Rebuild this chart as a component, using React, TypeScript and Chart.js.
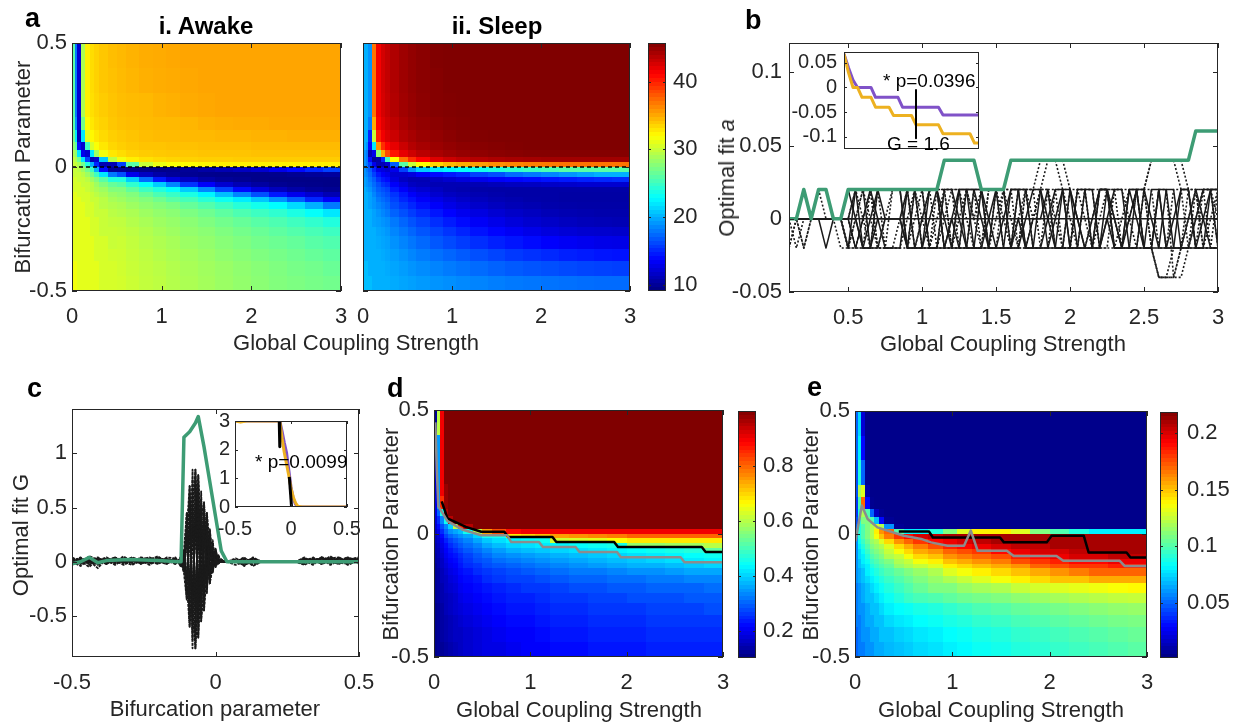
import React, { useEffect, useRef } from "react";
import { Chart, registerables } from "chart.js";

Chart.register(...registerables);

const FONT = '"Liberation Sans", Arial, Helvetica, sans-serif';
const AXIS_COLOR = "#262626";
const GREEN = "#3d9c74";
const YELLOW = "#edb120";
const PURPLE = "#8052c8";
const GRAY = "#8c8c8c";

/* ---------------- tick labels ---------------- */
const A_X_TICKS = [0, 1, 2, 3];
const A_Y_TICKS = [-0.5, 0, 0.5];
const CBAR_A_TICKS = [10, 20, 30, 40];
const B_X_TICKS = [0.5, 1, 1.5, 2, 2.5, 3];
const B_Y_TICKS = [-0.05, 0, 0.05, 0.1];
const B_INSET_Y_TICKS = [-0.1, -0.05, 0, 0.05];
const C_X_TICKS = [-0.5, 0, 0.5];
const C_Y_TICKS = [-0.5, 0, 0.5, 1];
const C_INSET_X_TICKS = [-0.5, 0, 0.5];
const C_INSET_Y_TICKS = [0, 1, 2, 3];
const CBAR_D_TICKS = [0.2, 0.4, 0.6, 0.8];
const CBAR_E_TICKS = [0.05, 0.1, 0.15, 0.2];

const CBAR_A_RANGE = [9.1, 45.7];
const CBAR_D_RANGE = [0.1, 1.0];
const CBAR_E_RANGE = [0.0015, 0.2185];

/* ---------------- heatmap grids (cell edges) ---------------- */
const HEAT_X_EDGES = [0, 0.03, 0.06, 0.1, 0.15, 0.2, 0.25, 0.3, 0.4, 0.5, 0.6, 0.75, 0.9, 1.05, 1.2, 1.4, 1.6, 1.8, 2.0, 2.2, 2.4, 2.6, 2.8, 3.0];
const HEAT_Y_EDGES = [0.5, 0.4, 0.3, 0.2, 0.15, 0.1, 0.07, 0.04, 0.02, 0, -0.02, -0.04, -0.06, -0.08, -0.1, -0.12, -0.14, -0.17, -0.2, -0.24, -0.28, -0.33, -0.38, -0.44, -0.5];

const AWAKE_GRID = [
  [26, 18, 12, 29, 32.5, 33.2, 33.6, 34, 34.3, 34.5, 34.7, 34.9, 35, 35.1, 35.2, 35.2, 35.2, 35.2, 35.2, 35.2, 35.2, 35.2, 35.2],
  [26, 18, 12, 29, 32.5, 33.2, 33.6, 34, 34.2, 34.4, 34.6, 34.8, 34.9, 35, 35.1, 35.2, 35.2, 35.2, 35.2, 35.2, 35.2, 35.2, 35.2],
  [26, 18, 12, 29, 32.5, 33.1, 33.5, 33.8, 34.1, 34.3, 34.4, 34.5, 34.7, 34.8, 35, 35.1, 35.2, 35.2, 35.2, 35.2, 35.2, 35.2, 35.2],
  [26, 19, 12, 27, 32, 32.8, 33.3, 33.6, 34, 34.2, 34.3, 34.4, 34.5, 34.5, 34.6, 34.8, 34.9, 35, 35, 35.1, 35.1, 35.1, 35.1],
  [27, 22, 11, 22, 31, 32.2, 32.8, 33.3, 33.7, 33.9, 34.1, 34.3, 34.4, 34.4, 34.5, 34.5, 34.6, 34.6, 34.7, 34.7, 34.8, 34.8, 34.8],
  [28, 26, 14, 12, 25, 30.5, 31.8, 32.8, 33.4, 33.7, 33.9, 34.1, 34.1, 34.2, 34.2, 34.3, 34.3, 34.3, 34.4, 34.4, 34.4, 34.4, 34.4],
  [29, 28, 22, 13, 12, 22, 28.5, 31.5, 32.8, 33.2, 33.6, 33.8, 33.9, 34, 34, 34.1, 34.1, 34.1, 34.2, 34.2, 34.2, 34.2, 34.2],
  [30, 29, 27, 22, 16, 11, 12, 21, 29.5, 31.5, 32.5, 33, 33.3, 33.5, 33.6, 33.7, 33.7, 33.8, 33.8, 33.8, 33.8, 33.8, 33.8],
  [30, 30, 29, 27, 24, 20, 15, 11, 11, 16, 26, 30, 31.3, 31.8, 32, 32.3, 32.5, 32.5, 32.5, 32.5, 32.5, 32.5, 32.5],
  [30, 30, 29.5, 28.5, 27, 25, 20, 14, 10, 10, 9.5, 9.5, 9.5, 9.7, 10, 10.5, 11, 11.5, 12, 13, 14, 15, 16],
  [30, 30, 30, 29.5, 28.5, 27, 25, 22, 18, 16.5, 13, 11.5, 10.5, 10, 9.8, 9.6, 9.5, 9.5, 9.5, 9.6, 9.8, 10, 10.2],
  [30.5, 30.5, 30, 30, 29.5, 28.5, 27.5, 26, 24, 24, 21, 17.5, 14.5, 12.5, 11.5, 10.5, 10, 9.8, 9.5, 9.4, 9.4, 9.4, 9.4],
  [30.5, 30.5, 30.5, 30, 30, 29.5, 28.5, 27.5, 26.5, 26, 24.5, 23, 21, 18.5, 15.5, 13.5, 12, 11, 10.3, 9.8, 9.6, 9.5, 9.4],
  [30.5, 30.5, 30.5, 30.5, 30, 29.5, 29, 28.5, 27.5, 27.5, 26.3, 25, 24, 23, 21, 18.5, 16, 14, 12.5, 11.3, 10.5, 10, 9.8],
  [31, 31, 30.5, 30.5, 30.5, 30, 29.5, 29, 28.3, 28, 27.5, 26.5, 25.5, 24.8, 23.8, 22.5, 20.5, 18.5, 16.5, 14.5, 13, 12, 11],
  [31, 31, 31, 30.5, 30.5, 30, 30, 29.5, 28.8, 28.5, 28, 27.5, 26.8, 26, 25.3, 24.3, 23.3, 22.2, 20.8, 19, 17, 15, 13.5],
  [31, 31, 31, 31, 30.5, 30.5, 30, 29.5, 29.2, 29, 28.5, 28, 27.6, 27.2, 26.5, 25.8, 25, 24.2, 23.5, 22.8, 21.5, 20, 18],
  [31, 31, 31, 31, 30.5, 30.5, 30, 30, 29.5, 29.3, 29, 28.5, 28.1, 27.8, 27.3, 26.8, 26.2, 25.6, 25, 24.5, 23.8, 23, 22],
  [31, 31, 31, 31, 31, 30.5, 30.5, 30, 29.8, 29.7, 29.3, 28.9, 28.5, 28.2, 27.8, 27.4, 26.9, 26.5, 26, 25.6, 25.1, 24.6, 24],
  [31, 31, 31, 31, 31, 30.5, 30.5, 30, 30, 29.9, 29.6, 29.2, 28.8, 28.5, 28.1, 27.8, 27.4, 27, 26.6, 26.2, 25.8, 25.4, 25],
  [31, 31, 31, 31, 31, 31, 30.5, 30.5, 30, 30.1, 29.8, 29.4, 29.1, 28.8, 28.4, 28.1, 27.7, 27.4, 27, 26.7, 26.4, 26, 25.7],
  [31, 31, 31, 31, 31, 31, 30.5, 30.5, 30.3, 30.2, 29.9, 29.6, 29.3, 29, 28.7, 28.4, 28, 27.7, 27.4, 27.1, 26.8, 26.5, 26.2],
  [31.5, 31.5, 31, 31, 31, 31, 31, 30.5, 30.5, 30.3, 30, 29.7, 29.5, 29.2, 28.9, 28.6, 28.3, 28, 27.7, 27.4, 27.1, 26.9, 26.6],
  [31.5, 31.5, 31, 31, 31, 31, 31, 30.5, 30.5, 30.4, 30.1, 29.8, 29.6, 29.3, 29, 28.7, 28.4, 28.1, 27.8, 27.5, 27.3, 27.1, 26.9],
];

const SLEEP_GRID = [
  [20, 20, 19, 37, 41.5, 42.7, 43.3, 44, 44.6, 45, 45.3, 45.6, 45.7, 45.7, 45.7, 45.7, 45.7, 45.7, 45.7, 45.7, 45.7, 45.7, 45.7],
  [20, 20, 19, 37, 41.5, 42.7, 43.3, 44, 44.6, 45, 45.3, 45.5, 45.7, 45.7, 45.7, 45.7, 45.7, 45.7, 45.7, 45.7, 45.7, 45.7, 45.7],
  [20, 20, 19, 37, 41.5, 42.6, 43.2, 43.9, 44.5, 44.9, 45.2, 45.5, 45.6, 45.7, 45.7, 45.7, 45.7, 45.7, 45.7, 45.7, 45.7, 45.7, 45.7],
  [20, 20, 18, 35, 41, 42.2, 42.9, 43.5, 44.2, 44.7, 45, 45.3, 45.5, 45.6, 45.7, 45.7, 45.7, 45.7, 45.7, 45.7, 45.7, 45.7, 45.7],
  [20, 20, 15, 30, 40, 41.6, 42.4, 43, 43.8, 44.3, 44.7, 45, 45.3, 45.5, 45.6, 45.7, 45.7, 45.7, 45.7, 45.7, 45.7, 45.7, 45.7],
  [20, 19, 14, 22, 36, 39.5, 41, 42, 43, 43.8, 44.3, 44.7, 45, 45.2, 45.4, 45.5, 45.6, 45.7, 45.7, 45.7, 45.7, 45.7, 45.7],
  [19, 18, 11, 13, 28, 35, 38.5, 40.5, 42, 42.9, 43.6, 44.2, 44.6, 44.9, 45.1, 45.3, 45.4, 45.5, 45.5, 45.5, 45.5, 45.5, 45.5],
  [19, 18, 14, 10, 10.5, 15, 25, 32, 37, 39.5, 41, 42.3, 43, 43.5, 43.8, 44.1, 44.3, 44.4, 44.5, 44.5, 44.5, 44.5, 44.5],
  [19, 18, 16, 13, 11, 11, 12, 17, 26, 30, 32, 33.5, 34.5, 35, 35.5, 36, 36.3, 36.6, 36.8, 37, 37, 37, 37],
  [19, 18, 17, 15, 13, 12.5, 12, 13, 16, 19, 21, 22, 22.5, 23, 23.5, 24, 24.5, 25, 25.5, 26, 26, 26, 26],
  [19, 18.5, 17.5, 16, 14.5, 13.5, 13, 12, 12, 12.5, 13.5, 14, 14.5, 15, 16, 16.5, 17.5, 18, 18.5, 19, 19.5, 20, 20],
  [19.5, 19, 18, 17, 15.5, 14.5, 14, 12.5, 11.5, 11, 11, 11.5, 12, 12.5, 13, 13.5, 13.8, 14, 14.3, 14.5, 14.8, 15, 15.2],
  [19.5, 19, 18.5, 17.5, 16.5, 15.5, 15, 13.5, 12.5, 11.5, 11.2, 11, 11, 11, 11, 11.2, 11.4, 11.5, 11.7, 11.8, 12, 12, 12],
  [20, 19.5, 19, 18, 17, 16.5, 16, 14.5, 13.5, 12.5, 12, 11.5, 11, 10.8, 10.6, 10.5, 10.5, 10.5, 10.5, 10.5, 10.5, 10.5, 10.5],
  [20, 20, 19.5, 18.5, 17.5, 17, 16.5, 15.5, 14.5, 13.5, 12.8, 12, 11.5, 11.2, 10.9, 10.7, 10.5, 10.5, 10.5, 10.4, 10.4, 10.4, 10.4],
  [20, 20, 19.5, 19, 18, 17.5, 17, 16, 15, 14.3, 13.5, 12.8, 12.2, 11.7, 11.3, 11, 10.8, 10.6, 10.5, 10.4, 10.4, 10.4, 10.4],
  [20, 20, 19.5, 19, 18.5, 18, 17.5, 16.5, 15.8, 15, 14.2, 13.5, 12.8, 12.3, 11.8, 11.4, 11.1, 10.9, 10.7, 10.6, 10.5, 10.5, 10.5],
  [20, 20, 20, 19.5, 19, 18.5, 18, 17.2, 16.5, 15.8, 15.1, 14.4, 13.7, 13.1, 12.6, 12.1, 11.7, 11.4, 11.1, 10.9, 10.8, 10.7, 10.7],
  [20, 20, 20, 19.5, 19.3, 19, 18.7, 18, 17.3, 16.6, 16, 15.3, 14.6, 14, 13.4, 12.9, 12.4, 12, 11.7, 11.4, 11.2, 11.1, 11],
  [20, 20, 20, 20, 19.6, 19.4, 19.1, 18.5, 17.9, 17.3, 16.7, 16.1, 15.5, 14.9, 14.3, 13.8, 13.3, 12.9, 12.5, 12.2, 12, 11.9, 11.8],
  [20, 20, 20, 20, 19.8, 19.6, 19.4, 18.9, 18.4, 17.9, 17.4, 16.8, 16.3, 15.8, 15.3, 14.8, 14.4, 14, 13.6, 13.3, 13.1, 12.9, 12.8],
  [20, 20, 20, 20, 20, 19.8, 19.6, 19.3, 18.9, 18.5, 18.1, 17.7, 17.3, 16.9, 16.5, 16.1, 15.7, 15.4, 15.1, 14.8, 14.6, 14.4, 14.3],
  [20.5, 20.5, 20, 20, 20, 20, 19.8, 19.6, 19.3, 19, 18.7, 18.4, 18.1, 17.8, 17.5, 17.2, 16.9, 16.7, 16.5, 16.3, 16.1, 16, 15.9],
  [20.5, 20.5, 20.5, 20, 20, 20, 20, 19.8, 19.6, 19.4, 19.2, 19, 18.8, 18.6, 18.4, 18.2, 18, 17.9, 17.8, 17.7, 17.6, 17.5, 17.5],
];

const PANEL_D_GRID = [
  [0.12, 0.6, 0.9, 1, 1, 1, 1, 1, 1, 1, 1, 1, 1, 1, 1, 1, 1, 1, 1, 1, 1, 1, 1],
  [0.18, 0.35, 0.9, 1, 1, 1, 1, 1, 1, 1, 1, 1, 1, 1, 1, 1, 1, 1, 1, 1, 1, 1, 1],
  [0.18, 0.35, 0.9, 1, 1, 1, 1, 1, 1, 1, 1, 1, 1, 1, 1, 1, 1, 1, 1, 1, 1, 1, 1],
  [0.18, 0.35, 0.9, 0.98, 1, 1, 1, 1, 1, 1, 1, 1, 1, 1, 1, 1, 1, 1, 1, 1, 1, 1, 1],
  [0.19, 0.35, 0.85, 0.98, 1, 1, 1, 1, 1, 1, 1, 1, 1, 1, 1, 1, 1, 1, 1, 1, 1, 1, 1],
  [0.19, 0.3, 0.45, 0.95, 1, 1, 1, 1, 1, 1, 1, 1, 1, 1, 1, 1, 1, 1, 1, 1, 1, 1, 1],
  [0.18, 0.25, 0.33, 0.45, 0.95, 1, 1, 1, 1, 1, 1, 1, 1, 1, 1, 1, 1, 1, 1, 1, 1, 1, 1],
  [0.17, 0.22, 0.28, 0.33, 0.4, 0.6, 0.85, 0.95, 1, 1, 1, 1, 1, 1, 1, 1, 1, 1, 1, 1, 1, 1, 1],
  [0.16, 0.2, 0.25, 0.3, 0.34, 0.36, 0.38, 0.45, 0.6, 0.75, 0.82, 0.88, 0.9, 0.9, 0.9, 0.9, 0.9, 0.9, 0.9, 0.9, 0.9, 0.9, 0.9],
  [0.15, 0.18, 0.22, 0.27, 0.3, 0.32, 0.34, 0.36, 0.4, 0.45, 0.45, 0.68, 0.7, 0.72, 0.75, 0.76, 0.77, 0.78, 0.8, 0.8, 0.8, 0.8, 0.8],
  [0.15, 0.17, 0.2, 0.24, 0.27, 0.29, 0.31, 0.33, 0.36, 0.39, 0.41, 0.43, 0.44, 0.45, 0.62, 0.63, 0.64, 0.66, 0.68, 0.68, 0.68, 0.68, 0.68],
  [0.14, 0.16, 0.19, 0.22, 0.25, 0.27, 0.29, 0.31, 0.33, 0.36, 0.38, 0.4, 0.41, 0.42, 0.43, 0.44, 0.45, 0.46, 0.57, 0.57, 0.58, 0.58, 0.6],
  [0.14, 0.15, 0.18, 0.21, 0.23, 0.25, 0.27, 0.29, 0.31, 0.33, 0.35, 0.37, 0.38, 0.39, 0.4, 0.41, 0.42, 0.43, 0.44, 0.45, 0.46, 0.47, 0.52],
  [0.13, 0.15, 0.17, 0.2, 0.22, 0.23, 0.25, 0.27, 0.29, 0.31, 0.33, 0.34, 0.35, 0.36, 0.37, 0.38, 0.39, 0.4, 0.41, 0.42, 0.43, 0.44, 0.45],
  [0.13, 0.14, 0.16, 0.19, 0.21, 0.22, 0.24, 0.26, 0.28, 0.29, 0.31, 0.32, 0.33, 0.34, 0.35, 0.36, 0.37, 0.38, 0.39, 0.4, 0.41, 0.42, 0.43],
  [0.12, 0.14, 0.16, 0.18, 0.2, 0.21, 0.23, 0.25, 0.26, 0.28, 0.29, 0.3, 0.31, 0.32, 0.33, 0.34, 0.35, 0.36, 0.37, 0.37, 0.38, 0.39, 0.4],
  [0.12, 0.13, 0.15, 0.17, 0.19, 0.2, 0.22, 0.23, 0.25, 0.26, 0.27, 0.28, 0.29, 0.3, 0.31, 0.32, 0.32, 0.33, 0.34, 0.34, 0.35, 0.36, 0.36],
  [0.12, 0.13, 0.15, 0.16, 0.18, 0.19, 0.21, 0.22, 0.23, 0.25, 0.26, 0.27, 0.27, 0.28, 0.29, 0.3, 0.3, 0.31, 0.31, 0.32, 0.32, 0.33, 0.33],
  [0.12, 0.13, 0.14, 0.16, 0.17, 0.18, 0.2, 0.21, 0.22, 0.23, 0.24, 0.25, 0.26, 0.26, 0.27, 0.28, 0.28, 0.29, 0.29, 0.3, 0.3, 0.3, 0.31],
  [0.12, 0.13, 0.14, 0.15, 0.16, 0.17, 0.19, 0.2, 0.21, 0.22, 0.23, 0.24, 0.24, 0.25, 0.26, 0.26, 0.27, 0.27, 0.28, 0.28, 0.28, 0.29, 0.29],
  [0.11, 0.12, 0.13, 0.15, 0.16, 0.17, 0.18, 0.19, 0.2, 0.21, 0.22, 0.23, 0.23, 0.24, 0.25, 0.25, 0.26, 0.26, 0.26, 0.27, 0.27, 0.27, 0.28],
  [0.11, 0.12, 0.13, 0.14, 0.15, 0.16, 0.17, 0.18, 0.19, 0.2, 0.21, 0.22, 0.22, 0.23, 0.24, 0.24, 0.25, 0.25, 0.25, 0.26, 0.26, 0.26, 0.26],
  [0.11, 0.12, 0.13, 0.14, 0.15, 0.16, 0.16, 0.17, 0.18, 0.19, 0.2, 0.21, 0.21, 0.22, 0.23, 0.23, 0.24, 0.24, 0.24, 0.25, 0.25, 0.25, 0.25],
  [0.11, 0.12, 0.12, 0.13, 0.14, 0.15, 0.16, 0.17, 0.18, 0.19, 0.19, 0.2, 0.21, 0.21, 0.22, 0.22, 0.23, 0.23, 0.23, 0.24, 0.24, 0.24, 0.24],
];

const PANEL_E_GRID = [
  [0.05, 0.075, 0.02, 0.004, 0.004, 0.004, 0.004, 0.004, 0.004, 0.004, 0.004, 0.004, 0.004, 0.004, 0.004, 0.004, 0.004, 0.004, 0.004, 0.004, 0.004, 0.004, 0.004],
  [0.05, 0.08, 0.03, 0.004, 0.004, 0.004, 0.004, 0.004, 0.004, 0.004, 0.004, 0.004, 0.004, 0.004, 0.004, 0.004, 0.004, 0.004, 0.004, 0.004, 0.004, 0.004, 0.004],
  [0.045, 0.09, 0.05, 0.005, 0.004, 0.004, 0.004, 0.004, 0.004, 0.004, 0.004, 0.004, 0.004, 0.004, 0.004, 0.004, 0.004, 0.004, 0.004, 0.004, 0.004, 0.004, 0.004],
  [0.045, 0.12, 0.13, 0.01, 0.004, 0.004, 0.004, 0.004, 0.004, 0.004, 0.004, 0.004, 0.004, 0.004, 0.004, 0.004, 0.004, 0.004, 0.004, 0.004, 0.004, 0.004, 0.004],
  [0.04, 0.1, 0.17, 0.03, 0.005, 0.004, 0.004, 0.004, 0.004, 0.004, 0.004, 0.004, 0.004, 0.004, 0.004, 0.004, 0.004, 0.004, 0.004, 0.004, 0.004, 0.004, 0.004],
  [0.04, 0.09, 0.12, 0.1, 0.05, 0.015, 0.006, 0.004, 0.004, 0.004, 0.004, 0.004, 0.004, 0.004, 0.004, 0.004, 0.004, 0.004, 0.004, 0.004, 0.004, 0.004, 0.004],
  [0.045, 0.09, 0.11, 0.11, 0.1, 0.07, 0.03, 0.006, 0.004, 0.004, 0.004, 0.004, 0.004, 0.004, 0.004, 0.004, 0.004, 0.004, 0.004, 0.004, 0.004, 0.004, 0.004],
  [0.05, 0.09, 0.1, 0.11, 0.12, 0.13, 0.12, 0.06, 0.006, 0.004, 0.004, 0.004, 0.004, 0.004, 0.004, 0.004, 0.004, 0.004, 0.004, 0.004, 0.004, 0.004, 0.004],
  [0.055, 0.09, 0.1, 0.11, 0.12, 0.14, 0.16, 0.17, 0.1, 0.08, 0.08, 0.09, 0.11, 0.13, 0.14, 0.14, 0.13, 0.11, 0.1, 0.09, 0.08, 0.08, 0.08],
  [0.06, 0.09, 0.1, 0.11, 0.12, 0.135, 0.15, 0.165, 0.18, 0.19, 0.2, 0.205, 0.21, 0.21, 0.21, 0.21, 0.21, 0.21, 0.21, 0.21, 0.21, 0.21, 0.21],
  [0.06, 0.085, 0.095, 0.105, 0.115, 0.12, 0.13, 0.145, 0.16, 0.17, 0.18, 0.19, 0.195, 0.2, 0.205, 0.21, 0.21, 0.21, 0.21, 0.21, 0.21, 0.21, 0.21],
  [0.06, 0.08, 0.09, 0.1, 0.11, 0.115, 0.12, 0.13, 0.145, 0.155, 0.165, 0.175, 0.185, 0.19, 0.195, 0.2, 0.205, 0.205, 0.21, 0.21, 0.21, 0.21, 0.21],
  [0.06, 0.075, 0.085, 0.095, 0.105, 0.11, 0.115, 0.125, 0.135, 0.145, 0.155, 0.16, 0.17, 0.175, 0.18, 0.19, 0.195, 0.2, 0.2, 0.205, 0.21, 0.21, 0.21],
  [0.06, 0.075, 0.08, 0.09, 0.1, 0.105, 0.11, 0.12, 0.125, 0.135, 0.145, 0.15, 0.16, 0.165, 0.17, 0.175, 0.185, 0.19, 0.195, 0.2, 0.2, 0.205, 0.205],
  [0.06, 0.07, 0.08, 0.085, 0.095, 0.1, 0.105, 0.11, 0.12, 0.125, 0.135, 0.14, 0.15, 0.155, 0.16, 0.165, 0.175, 0.18, 0.185, 0.19, 0.19, 0.195, 0.195],
  [0.06, 0.07, 0.075, 0.08, 0.09, 0.095, 0.1, 0.105, 0.115, 0.12, 0.125, 0.13, 0.14, 0.145, 0.15, 0.155, 0.16, 0.17, 0.175, 0.18, 0.18, 0.185, 0.185],
  [0.06, 0.065, 0.07, 0.08, 0.085, 0.09, 0.095, 0.1, 0.105, 0.11, 0.115, 0.12, 0.13, 0.135, 0.14, 0.145, 0.15, 0.155, 0.16, 0.165, 0.17, 0.17, 0.17],
  [0.06, 0.065, 0.07, 0.075, 0.08, 0.085, 0.09, 0.095, 0.1, 0.105, 0.11, 0.115, 0.12, 0.125, 0.13, 0.135, 0.14, 0.145, 0.15, 0.15, 0.155, 0.155, 0.155],
  [0.055, 0.06, 0.065, 0.07, 0.075, 0.08, 0.085, 0.09, 0.095, 0.1, 0.105, 0.11, 0.11, 0.115, 0.118, 0.12, 0.125, 0.128, 0.13, 0.132, 0.134, 0.136, 0.138],
  [0.055, 0.06, 0.065, 0.07, 0.07, 0.075, 0.08, 0.085, 0.09, 0.095, 0.098, 0.1, 0.103, 0.106, 0.108, 0.11, 0.113, 0.116, 0.118, 0.12, 0.122, 0.124, 0.125],
  [0.055, 0.06, 0.06, 0.065, 0.07, 0.07, 0.075, 0.08, 0.083, 0.085, 0.088, 0.09, 0.093, 0.096, 0.099, 0.101, 0.104, 0.106, 0.108, 0.11, 0.112, 0.114, 0.115],
  [0.055, 0.055, 0.06, 0.065, 0.065, 0.07, 0.07, 0.075, 0.078, 0.08, 0.083, 0.085, 0.088, 0.09, 0.093, 0.095, 0.098, 0.1, 0.102, 0.104, 0.106, 0.108, 0.109],
  [0.05, 0.055, 0.06, 0.06, 0.065, 0.065, 0.07, 0.07, 0.073, 0.075, 0.078, 0.08, 0.083, 0.085, 0.088, 0.09, 0.093, 0.095, 0.097, 0.099, 0.101, 0.103, 0.105],
  [0.05, 0.055, 0.055, 0.06, 0.06, 0.065, 0.065, 0.068, 0.07, 0.072, 0.075, 0.077, 0.08, 0.082, 0.085, 0.087, 0.09, 0.092, 0.094, 0.096, 0.098, 0.1, 0.102],
];

/* ---------------- panel a: zero reference line ---------------- */
const ZERO_LINE_X = [0, 3];
const ZERO_LINE_Y = [0, 0];

/* ---------------- panel b (values in hundredths) ---------------- */
const B_X = [0.1, 0.15, 0.2, 0.25, 0.3, 0.35, 0.4, 0.45, 0.5, 0.55, 0.6, 0.65, 0.7, 0.75, 0.8, 0.85, 0.9, 0.95, 1, 1.05, 1.1, 1.15, 1.2, 1.25, 1.3, 1.35, 1.4, 1.45, 1.5, 1.55, 1.6, 1.65, 1.7, 1.75, 1.8, 1.85, 1.9, 1.95, 2, 2.05, 2.1, 2.15, 2.2, 2.25, 2.3, 2.35, 2.4, 2.45, 2.5, 2.55, 2.6, 2.65, 2.7, 2.75, 2.8, 2.85, 2.9, 2.95, 3];
const B_GROUP = [0, 0, 2, 0, 2, 2, 0, 0, 2, 2, 2, 2, 2, 2, 2, 2, 2, 2, 2, 2, 2, 4, 4, 4, 4, 4, 2, 2, 2, 2, 4, 4, 4, 4, 4, 4, 4, 4, 4, 4, 4, 4, 4, 4, 4, 4, 4, 4, 4, 4, 4, 4, 4, 4, 4, 6, 6, 6, 6];
const B_SUBJ_SOLID_1 = [0, 0, 0, 0, 0, -2, 0, 0, 0, 0, 0, 0, 0, 0, 0, 0, 0, 0, 0, 0, 0, 0, 0, 0, 0, 0, 0, 0, 0, 0, 0, 0, 0, 0, 0, 0, 0, 0, 0, 0, 0, 0, 0, 0, 0, 0, 0, 0, 0, 0, 0, 0, 0, 0, 0, 0, 0, 0, 0];
const B_SUBJ_SOLID_2 = [0, 0, 0, 0, 0, 0, 0, 0, 0, 2, -2, -2, 2, 0, 0, 0, 2, -2, -2, 2, 2, -2, 0, 2, -2, -2, 2, 0, -2, -2, 2, 2, -2, 0, 0, 2, -2, -2, 2, 0, -2, -2, 2, 2, -2, -2, 0, 2, -2, -2, 2, 2, -2, -2, 0, 2, 0, -2, -2];
const B_SUBJ_SOLID_3 = [0, 0, 0, 0, 0, 0, 0, 0, -2, 2, 2, -2, -2, 0, 0, 0, -2, 2, 2, -2, -2, 2, 2, 0, -2, 2, 2, -2, -2, 0, 2, 2, -2, -2, 2, 0, -2, 2, 2, -2, -2, 0, 2, 2, -2, -2, 2, 0, -2, 2, 2, -2, 0, 2, 2, -2, -2, 2, 2];
const B_SUBJ_SOLID_4 = [0, 0, 0, 0, 0, 0, 0, 0, 0, 0, -2, -2, 0, 0, 0, 0, -2, -2, -2, -2, -2, -2, 0, -2, -2, -2, -2, -2, -2, -2, -2, 0, -2, -2, -2, -2, -2, -2, -2, -2, -2, -2, -2, 0, -2, -2, -2, -2, -2, -2, -2, -2, -2, -2, -2, -2, -2, -2, -2];
const B_SUBJ_SOLID_5 = [0, 0, 0, 0, 0, 0, 0, 0, 2, 0, -2, 0, 2, 2, 2, 2, -2, -2, 0, 2, 2, 0, -2, -2, 2, 2, 0, -2, 2, 2, -2, -2, 0, 2, 2, -2, 0, 2, -2, -2, 2, 2, -2, 0, 2, 2, -2, -2, 2, 0, -2, 2, 2, -2, -2, 0, 2, 2, -2];
const B_SUBJ_SOLID_6 = [0, 0, 0, 0, 0, 0, 0, 0, 0, -2, 0, 2, 0, -2, -2, -2, 2, 2, -2, 0, 2, -2, -2, 2, 2, -2, -2, 0, 2, -2, -2, 2, 2, -2, -2, 0, 2, 2, -2, 2, 2, -2, -2, 2, 0, -2, 2, 2, -2, -2, 2, -2, -2, 2, 2, -2, 0, 2, 2];
const B_SUBJ_DOTTED_1 = [-2, 0, -2, 0, 0, 0, 0, -2, -2, 0, 2, 0, -2, -2, -2, -2, 0, 2, 2, -2, -2, 0, 2, 2, 0, -2, -2, 2, 2, -2, -2, 2, 2, 0, 2, 4, 4, 4, 2, 0, -2, 0, 2, 2, 0, -2, 0, 2, 2, -2, -4, -4, -4, -4, -2, 0, 2, 2, -2];
const B_SUBJ_DOTTED_2 = [0, 0, 0, 0, 0, 0, 0, 0, 2, 2, 0, -2, 2, 2, 2, 2, 2, -2, 0, 2, 2, -2, -2, 2, 2, 0, -2, 2, 2, 0, -2, -2, 2, 2, 2, 2, 0, -2, -2, 2, 2, -2, 0, 2, 2, -2, -2, 2, 2, 4, 4, 4, 4, 4, 2, -2, 2, 2, 0];
const B_SUBJ_DOTTED_3 = [0, -2, 0, 0, 0, 0, 0, 0, -2, -2, 0, 2, -2, -2, 2, 2, -2, 0, 2, 2, -2, 2, 2, -2, -2, 2, 2, -2, 0, 2, 2, -2, -2, 0, 2, 2, -2, -2, 2, 0, -2, -2, 2, 2, -2, 0, 2, 2, -2, -2, -4, -4, -4, -2, 2, 2, -2, 0, 2];
const B_SUBJ_DOTTED_4 = [0, 0, 0, 0, 0, 0, 0, 0, 0, 2, 2, 2, 2, 2, 2, 2, 2, 2, 2, 2, 2, 2, 2, 2, 2, 2, 2, 2, 2, 2, 2, 2, 2, 2, 4, 4, 4, 2, 2, 2, 2, 2, 2, 2, 2, 2, 2, 2, 2, 4, 4, 4, 4, 2, 2, 2, 2, 2, 2];
const B_SUBJ_DOTTED_5 = [-2, 0, 0, 0, 0, 0, 0, 0, -2, -2, -2, -2, -2, -2, -2, -2, -2, -2, -2, -2, -2, -2, -2, -2, -2, -2, -2, -2, -2, -2, -2, -2, -2, -2, -2, -2, -2, -2, -2, -2, -2, -2, -2, -2, -2, -2, -2, -2, -2, -2, -4, -4, -2, -2, -2, -2, -2, -2, -2];
const B_SUBJ_DOTTED_6 = [0, 0, -2, 0, 0, 0, 0, 0, 0, -2, -2, 2, 2, -2, -2, 0, 2, 2, -2, -2, 0, 2, -2, -2, 2, 0, 2, -2, -2, 2, 0, -2, 2, 2, -2, -2, 2, 2, 0, -2, 2, 2, -2, -2, 2, 2, 0, -2, 2, 2, -2, -2, 2, 2, -2, 2, 2, -2, -2];
const B_SUBJ_DOTTED_7 = [0, 0, 0, 0, 2, 0, 0, 0, -2, 0, 2, 2, -2, 0, 2, 2, -2, 2, 0, -2, 2, 2, -2, 0, 2, 2, -2, -2, 2, 2, -2, 0, 2, -2, -2, 2, 2, -2, -2, 2, 0, -2, 2, 2, 0, -2, -2, 2, 2, -2, 2, 2, -4, -2, 0, 2, -2, -2, 2];

/* inset b */
const B_INSET_X = [0, 0.1, 0.2, 0.3, 0.4, 0.5, 0.6, 0.7, 0.8, 0.9, 1.0, 1.1, 1.2, 1.3, 1.4, 1.5, 1.6, 1.7, 1.8, 1.9, 2.0, 2.1, 2.2, 2.3, 2.4, 2.5, 2.6, 2.7, 2.8, 2.9, 3.0];
const B_INSET_SLEEP = [0.068, 0.03, 0.0, 0.0, -0.02, -0.02, -0.02, -0.04, -0.04, -0.04, -0.04, -0.057, -0.057, -0.057, -0.057, -0.057, -0.076, -0.076, -0.076, -0.076, -0.076, -0.076, -0.094, -0.094, -0.094, -0.094, -0.094, -0.094, -0.094, -0.113, -0.113];
const B_INSET_AWAKE = [0.068, 0.04, 0.015, 0.0, 0.0, 0.0, 0.0, -0.02, -0.02, -0.02, -0.02, -0.02, -0.02, -0.04, -0.04, -0.04, -0.04, -0.04, -0.04, -0.04, -0.04, -0.04, -0.056, -0.056, -0.056, -0.056, -0.056, -0.056, -0.056, -0.056, -0.056];
const B_INSET_MARK_X = [1.6, 1.6];
const B_INSET_MARK_Y = [-0.005, -0.103];

/* ---------------- panel c (subject values in hundredths) ---------------- */
const C_X = [-0.5, -0.47, -0.44, -0.41, -0.38, -0.35, -0.32, -0.29, -0.26, -0.23, -0.2, -0.17, -0.14, -0.13, -0.12, -0.11, -0.1, -0.09, -0.08, -0.07, -0.06, -0.05, -0.04, -0.03, -0.02, -0.01, 0, 0.01, 0.02, 0.03, 0.04, 0.07, 0.1, 0.13, 0.16, 0.19, 0.22, 0.25, 0.28, 0.31, 0.34, 0.37, 0.4, 0.43, 0.46, 0.5];
const C_SUBJ_1 = [3, -2, 4, 0, 3, -1, 4, 1, 3, -2, 4, 0, 2, 0, 5, -10, 45, -60, 85, -80, 80, -55, 55, -30, 30, -10, 12, -2, 2, 0, 0, 0, 3, 0, 0, 0, 0, 0, 0, 4, -2, 3, -1, 4, 0, 2];
const C_SUBJ_2 = [-2, 3, 0, 4, -1, 2, 0, 3, -2, 2, 5, -1, 0, 0, -5, 10, -35, 70, -80, 85, -70, 65, -45, 45, -20, 20, -5, 6, 0, 0, 0, 0, -3, 3, 0, 0, 0, 0, 0, -2, 4, -1, 3, -2, 4, 0];
const C_SUBJ_3 = [0, 4, -3, 2, 3, 0, 5, -1, 2, 4, 0, 3, -2, 0, 4, -8, 36, -48, 68, -64, 64, -44, 44, -24, 24, -8, 10, -2, 2, 0, 0, 3, 0, -3, 0, 0, 0, 0, 0, 3, 0, 4, -2, 3, -1, 3];
const C_SUBJ_4 = [4, 0, 2, -3, 1, 4, -2, 3, 0, 1, -2, 4, 3, 0, -4, 8, -28, 56, -64, 68, -56, 52, -36, 36, -16, 16, -4, 5, 0, 0, 0, 0, 0, 0, 0, 0, 0, 0, 0, -2, 3, 0, 5, 0, 3, -1];
const C_SUBJ_5 = [1, -1, 5, 2, -2, 3, 1, -1, 4, 2, -1, 2, 0, 0, 3, -6, 27, -36, 51, -48, 48, -33, 33, -18, 18, -6, 7, -1, 1, 0, 0, -3, 0, 3, 0, 0, 0, 0, 0, 1, -3, 4, 0, -2, 2, 4];
const C_SUBJ_6 = [-3, 2, 1, -6, 3, 2, -1, 4, 1, -3, 2, 1, -2, 0, -3, 6, -21, 42, -48, 51, -42, 39, -27, 27, -12, 12, -3, 4, 0, 0, 0, 0, 4, -4, 0, 0, 0, 0, 0, 3, 1, -2, 3, 4, -3, 1];
const C_SUBJ_7 = [2, 1, -5, 3, 0, -2, 3, 2, -1, 3, 1, -2, 4, 0, 2, -4, 18, -24, 34, -32, 32, -22, 22, -12, 12, -4, 5, -1, 1, 0, 0, 0, 0, 0, 0, 0, 0, 0, 0, 0, 2, 3, -3, 1, 4, -2];
const C_SUBJ_8 = [0, -4, 2, 1, -2, 4, 0, -3, 2, 0, 3, 2, -1, 0, -2, 4, -14, 28, -32, 34, -28, 26, -18, 18, -8, 8, -2, 2, 0, 0, 0, 2, -4, 4, 0, 0, 0, 0, 0, -1, 2, -2, 4, 0, 2, 3];
const C_SUBJ_9 = [1, 3, -2, 2, 0, 4, -1, 2, 3, -1, 2, 0, 1, 0, 0, 10, 45, 20, -40, -80, -30, 40, 55, 10, -20, 0, 12, 0, 0, 0, 0, 0, -2, 2, 0, 0, 0, 0, 0, 2, -1, 3, 1, -2, 3, 1];
const C_SUBJ_10 = [-1, 2, 3, 0, 2, -3, 2, 0, 1, 3, -1, 3, 0, 0, 0, -10, -35, -20, 50, 85, 30, -55, -25, 45, 15, -10, 5, 3, 0, 0, 0, 0, 2, -2, 0, 0, 0, 0, 0, -3, 2, 1, -1, 3, 0, 2];
const C_SUBJ_11 = [2, 0, 1, 3, -2, 1, 3, -2, 0, 2, 4, -1, 2, 0, 5, 8, -20, -60, -30, 40, 80, 20, -45, -10, 30, 5, -5, 0, 0, 0, 0, 0, 0, 3, 0, 0, 0, 0, 0, 2, 3, -2, 2, 1, -1, 0];
const C_SUBJ_12 = [0, 2, -1, 1, 4, -1, 0, 3, -2, 1, 2, 1, -1, 0, -3, 0, 30, 70, 20, -60, -70, -10, 40, 30, -20, -5, 10, 0, 0, 0, 0, 0, 3, 0, 0, 0, 0, 0, 0, 0, -1, 4, 2, -2, 3, 2];
const C_SUBJ_13 = [3, 1, 0, -2, 2, 1, -3, 1, 3, 0, -2, 2, 1, 0, 4, -9, 40, -54, 76, -72, 72, -50, 50, -27, 27, -9, 11, -2, 2, 0, 0, 0, -3, 0, 0, 0, 0, 0, 0, 1, 3, -2, 0, 3, 1, -1];
const C_SUBJ_14 = [-1, -2, 3, 1, 0, 2, 1, 4, -1, 2, 0, -2, 3, 0, -4, 9, -31, 63, -72, 76, -63, 58, -40, 40, -18, 18, -4, 5, 0, 0, 0, 0, 0, 0, 0, 0, 0, 0, 0, 2, 0, 1, 3, -1, -2, 1];
const C_GROUP_X = [-0.5, -0.47, -0.44, -0.41, -0.38, -0.3, -0.2, -0.13, -0.12, -0.11, -0.09, -0.07, -0.06, -0.04, -0.02, 0, 0.02, 0.04, 0.1, 0.5];
const C_GROUP_Y = [-0.02, 0.0, 0.04, -0.01, 0.01, 0.02, 0.01, 0.0, 0.0, 1.15, 1.2, 1.28, 1.34, 1.06, 0.74, 0.42, 0.1, 0.0, 0.0, 0.0];

/* inset c */
const C_INSET_X = [-0.5, -0.45, -0.4, -0.3, -0.2, -0.12, -0.1, -0.08, -0.06, -0.04, -0.02, 0, 0.02, 0.04, 0.06, 0.1, 0.2, 0.3, 0.4, 0.5];
const C_INSET_SLEEP = [3, 2.96, 3, 3, 3, 3, 3, 2.4, 1.9, 1.5, 1.1, 0.65, 0.35, 0.15, 0.03, 0, 0, 0, 0, 0];
const C_INSET_AWAKE = [3, 3, 3, 3, 3, 3, 3, 2.65, 2.25, 1.9, 1.3, 0.7, 0.3, 0.1, 0, 0, 0, 0, 0, 0];
const C_INSET_MARK1_X = [-0.105, -0.1];
const C_INSET_MARK1_Y = [3.0, 2.1];
const C_INSET_MARK2_X = [-0.015, 0.005];
const C_INSET_MARK2_Y = [1.05, 0.0];

/* ---------------- panels d, e: boundary lines ---------------- */
const D_BLACK_X = [0.08, 0.14, 0.33, 0.49, 0.73, 0.77, 1.23, 1.27, 1.87, 1.91, 2.78, 2.82, 3.0];
const D_BLACK_Y = [0.13, 0.061, 0.027, 0.007, 0.007, -0.014, -0.014, -0.034, -0.034, -0.055, -0.055, -0.075, -0.075];
const D_GRAY_X = [0.014, 0.03, 0.045, 0.14, 0.3, 0.49, 0.76, 0.8, 1.09, 1.13, 1.47, 1.51, 1.9, 1.94, 2.56, 2.6, 3.0];
const D_GRAY_Y = [0.45, 0.25, 0.11, 0.05, 0.015, -0.007, -0.007, -0.034, -0.034, -0.055, -0.055, -0.075, -0.075, -0.096, -0.096, -0.116, -0.116];
const E_BLACK_X = [0.45, 0.76, 0.8, 1.49, 1.53, 1.97, 2.02, 2.35, 2.4, 2.79, 2.83, 3.0];
const E_BLACK_Y = [0.01, 0.01, -0.014, -0.014, -0.034, -0.034, -0.007, -0.007, -0.075, -0.075, -0.096, -0.096];
const E_GRAY_X = [0.005, 0.04, 0.07, 0.13, 0.23, 0.5, 0.68, 0.78, 0.95, 1.12, 1.19, 1.26, 1.56, 1.63, 2.07, 2.14, 2.72, 2.77, 3.0];
const E_GRAY_Y = [-0.03, 0.05, 0.116, 0.061, 0.027, -0.007, -0.02, -0.034, -0.048, -0.048, 0.014, -0.068, -0.068, -0.089, -0.089, -0.109, -0.109, -0.13, -0.13];

/* ---------------- helpers ---------------- */
function jet(t: number): string {
  const c = (v: number) => Math.max(0, Math.min(1, v));
  t = c(t);
  const r = c(1.5 - Math.abs(4 * t - 3));
  const g = c(1.5 - Math.abs(4 * t - 2));
  const b = c(1.5 - Math.abs(4 * t - 1));
  return `rgb(${Math.round(r * 255)},${Math.round(g * 255)},${Math.round(b * 255)})`;
}

const fmt = (v: number) => String(Math.round(v * 1000) / 1000);

type Box = { x: number; y: number; w: number; h: number; pl: number; pt: number; pr: number; pb: number };

function zeroPad(s: any) {
  s.paddingLeft = 0;
  s.paddingRight = 0;
  s.paddingTop = 0;
  s.paddingBottom = 0;
}

function xAxis(min: number, max: number, ticks: number[], o: { show?: boolean; height: number; pad?: number; size?: number }) {
  return {
    type: "linear",
    position: "bottom",
    min,
    max,
    afterBuildTicks: (s: any) => {
      s.ticks = ticks.map((v) => ({ value: v }));
    },
    afterFit: (s: any) => {
      s.height = o.height;
      zeroPad(s);
    },
    grid: { display: false, drawTicks: false },
    border: { display: false },
    ticks: {
      display: o.show !== false,
      autoSkip: false,
      maxRotation: 0,
      minRotation: 0,
      padding: o.pad ?? 12,
      color: AXIS_COLOR,
      font: { family: FONT, size: o.size ?? 22 },
      callback: (v: number) => fmt(v),
    },
  };
}

function yAxis(min: number, max: number, ticks: number[], o: { show?: boolean; width: number; pad?: number; size?: number; position?: string }) {
  return {
    type: "linear",
    position: o.position ?? "left",
    min,
    max,
    afterBuildTicks: (s: any) => {
      s.ticks = ticks.map((v) => ({ value: v }));
    },
    afterFit: (s: any) => {
      s.width = o.width;
      zeroPad(s);
    },
    grid: { display: false, drawTicks: false },
    border: { display: false },
    ticks: {
      display: o.show !== false,
      autoSkip: false,
      padding: o.pad ?? 5,
      color: AXIS_COLOR,
      font: { family: FONT, size: o.size ?? 22 },
      callback: (v: number) => fmt(v),
    },
  };
}

function frame(xTicks: number[], yTicks: number[], len: number) {
  return {
    id: "frame",
    afterDraw(chart: any) {
      const { ctx, chartArea: a, scales } = chart;
      ctx.save();
      ctx.strokeStyle = AXIS_COLOR;
      ctx.lineWidth = 1;
      ctx.beginPath();
      for (const v of xTicks) {
        const p = Math.round(scales.x.getPixelForValue(v)) + 0.5;
        ctx.moveTo(p, a.bottom);
        ctx.lineTo(p, a.bottom - len);
        ctx.moveTo(p, a.top);
        ctx.lineTo(p, a.top + len);
      }
      for (const v of yTicks) {
        const p = Math.round(scales.y.getPixelForValue(v)) + 0.5;
        ctx.moveTo(a.left, p);
        ctx.lineTo(a.left + len, p);
        ctx.moveTo(a.right, p);
        ctx.lineTo(a.right - len, p);
      }
      ctx.stroke();
      ctx.strokeRect(Math.round(a.left) + 0.5, Math.round(a.top) + 0.5, Math.round(a.width) - 1, Math.round(a.height) - 1);
      ctx.restore();
    },
  };
}

const whiteBg = {
  id: "whiteBg",
  beforeDraw(chart: any) {
    const { ctx, chartArea: a } = chart;
    ctx.save();
    ctx.fillStyle = "#ffffff";
    ctx.fillRect(a.left, a.top, a.width, a.height);
    ctx.restore();
  },
};

function heatmap(grid: number[][], xe: number[], ye: number[], range: number[]) {
  return {
    id: "heat",
    beforeDatasetsDraw(chart: any) {
      const { ctx, scales } = chart;
      const { x, y } = scales;
      ctx.save();
      for (let r = 0; r < grid.length; r++) {
        const y0 = Math.round(y.getPixelForValue(ye[r]));
        const y1 = Math.round(y.getPixelForValue(ye[r + 1]));
        for (let c = 0; c < grid[r].length && c < xe.length - 1; c++) {
          const x0 = Math.round(x.getPixelForValue(xe[c]));
          const x1 = Math.round(x.getPixelForValue(xe[c + 1]));
          ctx.fillStyle = jet((grid[r][c] - range[0]) / (range[1] - range[0]));
          ctx.fillRect(x0, y0, x1 - x0, y1 - y0);
        }
      }
      ctx.restore();
    },
  };
}

function colorbarFill(range: number[], levels: number) {
  return {
    id: "cbar",
    beforeDatasetsDraw(chart: any) {
      const { ctx, chartArea: a, scales } = chart;
      ctx.save();
      for (let i = 0; i < levels; i++) {
        const v0 = range[0] + ((range[1] - range[0]) * i) / levels;
        const v1 = range[0] + ((range[1] - range[0]) * (i + 1)) / levels;
        const p0 = Math.round(scales.y.getPixelForValue(v0));
        const p1 = Math.round(scales.y.getPixelForValue(v1));
        ctx.fillStyle = jet((i + 0.5) / levels);
        ctx.fillRect(a.left, p1, a.width, p0 - p1);
      }
      ctx.restore();
    },
  };
}

function series(xs: number[], ys: number[], color: string, width: number, dash: number[] = [], scale = 1) {
  return {
    data: xs.map((x, i) => ({ x, y: ys[i] * scale })),
    borderColor: color,
    backgroundColor: color,
    borderWidth: width,
    borderDash: dash,
    borderJoinStyle: "round",
    borderCapStyle: "butt",
    pointRadius: 0,
    fill: false,
    tension: 0,
  };
}

function lineConfig(box: Box, scales: any, datasets: any[], plugins: any[]) {
  return {
    type: "line",
    data: { datasets },
    options: {
      animation: false,
      responsive: false,
      maintainAspectRatio: false,
      events: [],
      layout: { padding: { left: 0, top: box.pt, right: box.pr, bottom: 0 } },
      scales,
      plugins: { legend: { display: false }, tooltip: { enabled: false }, title: { display: false } },
    },
    plugins,
  };
}

function colorbarConfig(box: Box, range: number[], ticks: number[], pad: number) {
  return {
    type: "line",
    data: { datasets: [] },
    options: {
      animation: false,
      responsive: false,
      maintainAspectRatio: false,
      events: [],
      layout: { padding: { left: box.pl, top: box.pt, right: 0, bottom: box.pb } },
      scales: {
        x: { type: "linear", display: false, min: 0, max: 1 },
        y: yAxis(range[0], range[1], ticks, { width: box.pr, pad, position: "right" }),
      },
      plugins: { legend: { display: false }, tooltip: { enabled: false } },
    },
    plugins: [colorbarFill(range, 64), frame([], ticks, 3)],
  };
}

function ChartCanvas({ box, build }: { box: Box; build: () => any }) {
  const ref = useRef<HTMLCanvasElement>(null);
  useEffect(() => {
    const chart = new Chart(ref.current as HTMLCanvasElement, build());
    return () => chart.destroy();
  }, []);
  const W = box.w + box.pl + box.pr;
  const H = box.h + box.pt + box.pb;
  return (
    <canvas
      ref={ref}
      width={W}
      height={H}
      style={{ position: "absolute", left: box.x - box.pl, top: box.y - box.pt, width: W, height: H }}
    />
  );
}

function Txt({ x, y, size = 22, bold = false, align = "center", color = AXIS_COLOR, children }: any) {
  const style: any = {
    position: "absolute",
    left: x,
    top: y - 0.8465 * size,
    fontSize: size,
    lineHeight: `${size}px`,
    fontWeight: bold ? "bold" : "normal",
    color,
    whiteSpace: "nowrap",
    fontFamily: FONT,
  };
  if (align === "center") style.transform = "translateX(-50%)";
  return <div style={style}>{children}</div>;
}

function VTxt({ cx, cy, size = 22, color = AXIS_COLOR, children }: any) {
  return (
    <div
      style={{
        position: "absolute",
        left: cx,
        top: cy,
        fontSize: size,
        lineHeight: `${size}px`,
        color,
        whiteSpace: "nowrap",
        fontFamily: FONT,
        transform: "translate(-50%, -50%) rotate(-90deg)",
      }}
    >
      {children}
    </div>
  );
}

/* ---------------- boxes (plot areas + margins) ---------------- */
const A1_BOX: Box = { x: 72, y: 43, w: 269, h: 248, pl: 66, pt: 14, pr: 20, pb: 40 };
const A2_BOX: Box = { x: 363, y: 43, w: 267, h: 248, pl: 8, pt: 14, pr: 20, pb: 40 };
const CBA_BOX: Box = { x: 648, y: 43, w: 18, h: 248, pl: 4, pt: 14, pr: 44, pb: 14 };
const B_BOX: Box = { x: 789, y: 43, w: 429, h: 249, pl: 70, pt: 14, pr: 20, pb: 40 };
const BI_BOX: Box = { x: 844, y: 52, w: 135, h: 97, pl: 60, pt: 12, pr: 4, pb: 12 };
const C_BOX: Box = { x: 72, y: 409, w: 287, h: 248, pl: 66, pt: 14, pr: 20, pb: 40 };
const CI_BOX: Box = { x: 235, y: 421, w: 112, h: 86, pl: 30, pt: 14, pr: 25, pb: 34 };
const D_BOX: Box = { x: 434, y: 410, w: 289, h: 247, pl: 66, pt: 14, pr: 20, pb: 40 };
const CBD_BOX: Box = { x: 738, y: 411, w: 18, h: 247, pl: 4, pt: 14, pr: 50, pb: 14 };
const E_BOX: Box = { x: 855, y: 411, w: 292, h: 246, pl: 66, pt: 14, pr: 20, pb: 40 };
const CBE_BOX: Box = { x: 1160, y: 412, w: 18, h: 246, pl: 4, pt: 14, pr: 64, pb: 14 };

function heatConfig(box: Box, grid: number[][], range: number[], showY: boolean, datasets: any[]) {
  return lineConfig(
    box,
    {
      x: xAxis(0, 3, A_X_TICKS, { height: box.pb, pad: 13 }),
      y: yAxis(-0.5, 0.5, A_Y_TICKS, { width: box.pl, pad: 5, show: showY }),
    },
    datasets,
    [heatmap(grid, HEAT_X_EDGES, HEAT_Y_EDGES, range), frame(A_X_TICKS, A_Y_TICKS, 5)]
  );
}

const buildA1 = () =>
  heatConfig(A1_BOX, AWAKE_GRID, CBAR_A_RANGE, true, [series(ZERO_LINE_X, ZERO_LINE_Y, "#000", 1.5, [4, 3])]);
const buildA2 = () =>
  heatConfig(A2_BOX, SLEEP_GRID, CBAR_A_RANGE, false, [series(ZERO_LINE_X, ZERO_LINE_Y, "#000", 1.5, [4, 3])]);
const buildCBA = () => colorbarConfig(CBA_BOX, CBAR_A_RANGE, CBAR_A_TICKS, 7);

const buildB = () => {
  const solid = [B_SUBJ_SOLID_1, B_SUBJ_SOLID_2, B_SUBJ_SOLID_3, B_SUBJ_SOLID_4, B_SUBJ_SOLID_5, B_SUBJ_SOLID_6];
  const dotted = [B_SUBJ_DOTTED_1, B_SUBJ_DOTTED_2, B_SUBJ_DOTTED_3, B_SUBJ_DOTTED_4, B_SUBJ_DOTTED_5, B_SUBJ_DOTTED_6, B_SUBJ_DOTTED_7];
  const ds = [
    series(B_X, B_GROUP, GREEN, 3.5, [], 0.01),
    ...solid.map((s) => series(B_X, s, "#1a1a1a", 1.5, [], 0.01)),
    ...dotted.map((s) => series(B_X, s, "#1a1a1a", 1.6, [2, 2], 0.01)),
  ];
  return lineConfig(
    B_BOX,
    {
      x: xAxis(0.1, 3, B_X_TICKS, { height: B_BOX.pb, pad: 13 }),
      y: yAxis(-0.05, 0.12, B_Y_TICKS, { width: B_BOX.pl, pad: 7 }),
    },
    ds,
    [frame(B_X_TICKS, B_Y_TICKS, 5)]
  );
};

const buildBI = () =>
  lineConfig(
    BI_BOX,
    {
      x: xAxis(0, 3, [], { height: BI_BOX.pb, show: false }),
      y: yAxis(-0.125, 0.072, B_INSET_Y_TICKS, { width: BI_BOX.pl, pad: 7, size: 20 }),
    },
    [
      series(B_INSET_MARK_X, B_INSET_MARK_Y, "#000", 2),
      series(B_INSET_X, B_INSET_SLEEP, YELLOW, 3),
      series(B_INSET_X, B_INSET_AWAKE, PURPLE, 3),
    ],
    [whiteBg, frame([], B_INSET_Y_TICKS, 3)]
  );

const buildC = () => {
  const subs = [C_SUBJ_1, C_SUBJ_2, C_SUBJ_3, C_SUBJ_4, C_SUBJ_5, C_SUBJ_6, C_SUBJ_7, C_SUBJ_8, C_SUBJ_9, C_SUBJ_10, C_SUBJ_11, C_SUBJ_12, C_SUBJ_13, C_SUBJ_14];
  const ds = [
    series(C_GROUP_X, C_GROUP_Y, GREEN, 3.5),
    ...subs.map((s) => series(C_X, s, "#1a1a1a", 1.8, [3, 1], 0.01)),
  ];
  return lineConfig(
    C_BOX,
    {
      x: xAxis(-0.5, 0.5, C_X_TICKS, { height: C_BOX.pb, pad: 13 }),
      y: yAxis(-0.88, 1.41, C_Y_TICKS, { width: C_BOX.pl, pad: 5 }),
    },
    ds,
    [frame(C_X_TICKS, C_Y_TICKS, 5)]
  );
};

const buildCI = () =>
  lineConfig(
    CI_BOX,
    {
      x: xAxis(-0.5, 0.5, C_INSET_X_TICKS, { height: CI_BOX.pb, pad: 10, size: 20 }),
      y: yAxis(0, 3, C_INSET_Y_TICKS, { width: CI_BOX.pl, pad: 5, size: 20 }),
    },
    [
      series(C_INSET_MARK1_X, C_INSET_MARK1_Y, "#000", 3),
      series(C_INSET_MARK2_X, C_INSET_MARK2_Y, "#000", 3),
      series(C_INSET_X, C_INSET_SLEEP, YELLOW, 3),
      series(C_INSET_X, C_INSET_AWAKE, PURPLE, 3),
    ],
    [whiteBg, frame(C_INSET_X_TICKS, C_INSET_Y_TICKS, 3)]
  );

const buildD = () =>
  heatConfig(D_BOX, PANEL_D_GRID, CBAR_D_RANGE, true, [
    series(D_GRAY_X, D_GRAY_Y, GRAY, 2.5),
    series(D_BLACK_X, D_BLACK_Y, "#000", 2.5),
  ]);
const buildCBD = () => colorbarConfig(CBD_BOX, CBAR_D_RANGE, CBAR_D_TICKS, 7);

const buildE = () =>
  heatConfig(E_BOX, PANEL_E_GRID, CBAR_E_RANGE, true, [
    series(E_GRAY_X, E_GRAY_Y, GRAY, 2.5),
    series(E_BLACK_X, E_BLACK_Y, "#000", 2.5),
  ]);
const buildCBE = () => colorbarConfig(CBE_BOX, CBAR_E_RANGE, CBAR_E_TICKS, 9);

export default function App() {
  return (
    <div
      style={{
        position: "absolute",
        left: 0,
        top: 0,
        width: 1243,
        height: 723,
        background: "#ffffff",
        overflow: "hidden",
        fontFamily: FONT,
      }}
    >
      <ChartCanvas box={A1_BOX} build={buildA1} />
      <ChartCanvas box={A2_BOX} build={buildA2} />
      <ChartCanvas box={CBA_BOX} build={buildCBA} />
      <ChartCanvas box={B_BOX} build={buildB} />
      <ChartCanvas box={C_BOX} build={buildC} />
      <ChartCanvas box={D_BOX} build={buildD} />
      <ChartCanvas box={CBD_BOX} build={buildCBD} />
      <ChartCanvas box={E_BOX} build={buildE} />
      <ChartCanvas box={CBE_BOX} build={buildCBE} />
      <ChartCanvas box={BI_BOX} build={buildBI} />
      <ChartCanvas box={CI_BOX} build={buildCI} />

      <Txt x={25} y={28} size={27} bold align="left" color="#000">a</Txt>
      <Txt x={206} y={34} size={24} bold color="#000">i. Awake</Txt>
      <Txt x={497} y={34} size={24} bold color="#000">ii. Sleep</Txt>
      <Txt x={745} y={30} size={27} bold align="left" color="#000">b</Txt>
      <Txt x={27} y={398} size={27} bold align="left" color="#000">c</Txt>
      <Txt x={387} y={398} size={27} bold align="left" color="#000">d</Txt>
      <Txt x={807} y={397} size={27} bold align="left" color="#000">e</Txt>

      <Txt x={356} y={351}>Global Coupling Strength</Txt>
      <Txt x={1003} y={352}>Global Coupling Strength</Txt>
      <Txt x={215} y={717}>Bifurcation parameter</Txt>
      <Txt x={579} y={718}>Global Coupling Strength</Txt>
      <Txt x={1001} y={718}>Global Coupling Strength</Txt>

      <VTxt cx={23} cy={167}>Bifurcation Parameter</VTxt>
      <VTxt cx={727} cy={178}>
        Optimal fit <i>a</i>
      </VTxt>
      <VTxt cx={21} cy={535}>Optimal fit G</VTxt>
      <VTxt cx={391} cy={534}>Bifurcation Parameter</VTxt>
      <VTxt cx={811} cy={534}>Bifurcation Parameter</VTxt>

      <Txt x={883} y={87} size={19} align="left" color="#000">* p=0.0396</Txt>
      <Txt x={887} y={150} size={19} align="left" color="#000">G = 1.6</Txt>
      <Txt x={255} y={468} size={19} align="left" color="#000">* p=0.0099</Txt>
    </div>
  );
}
